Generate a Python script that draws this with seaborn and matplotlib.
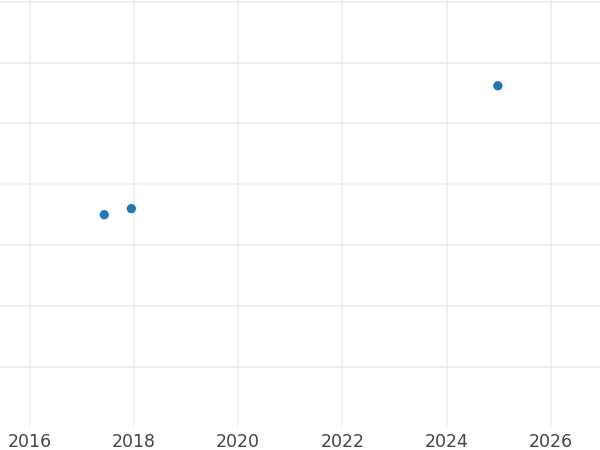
import matplotlib
matplotlib.use("Agg")
import matplotlib.pyplot as plt
import seaborn as sns
import pandas as pd

# data
years = [2017.43, 2017.95, 2024.98]
values = [3.50, 3.60, 5.62]
x_ticks = [2016, 2018, 2020, 2022, 2024, 2026]
y_ticks = [1, 2, 3, 4, 5, 6, 7]

df = pd.DataFrame({"year": years, "value": values})

sns.set_style("whitegrid", {"grid.color": "#ebebeb", "axes.edgecolor": "white"})

fig = plt.figure(figsize=(6, 4.5), dpi=100)
ax = fig.add_axes([0, 1 - 427 / 450, 1, 427 / 450])

sns.scatterplot(data=df, x="year", y="value", color="#1f77b4", s=45,
                edgecolor="none", ax=ax)

ax.set_xlim(2015.43, 2026.94)
ax.set_ylim(0.01, 7.03)
ax.set_xticks(x_ticks)
ax.set_yticks(y_ticks)
ax.set_yticklabels([])
ax.set_xlabel("")
ax.set_ylabel("")
ax.grid(True, linewidth=1.1)
ax.tick_params(axis="both", length=0, labelsize=12.5, labelcolor="#444444", pad=4)
for s in ax.spines.values():
    s.set_visible(False)

fig.savefig("out.png", dpi=100)
